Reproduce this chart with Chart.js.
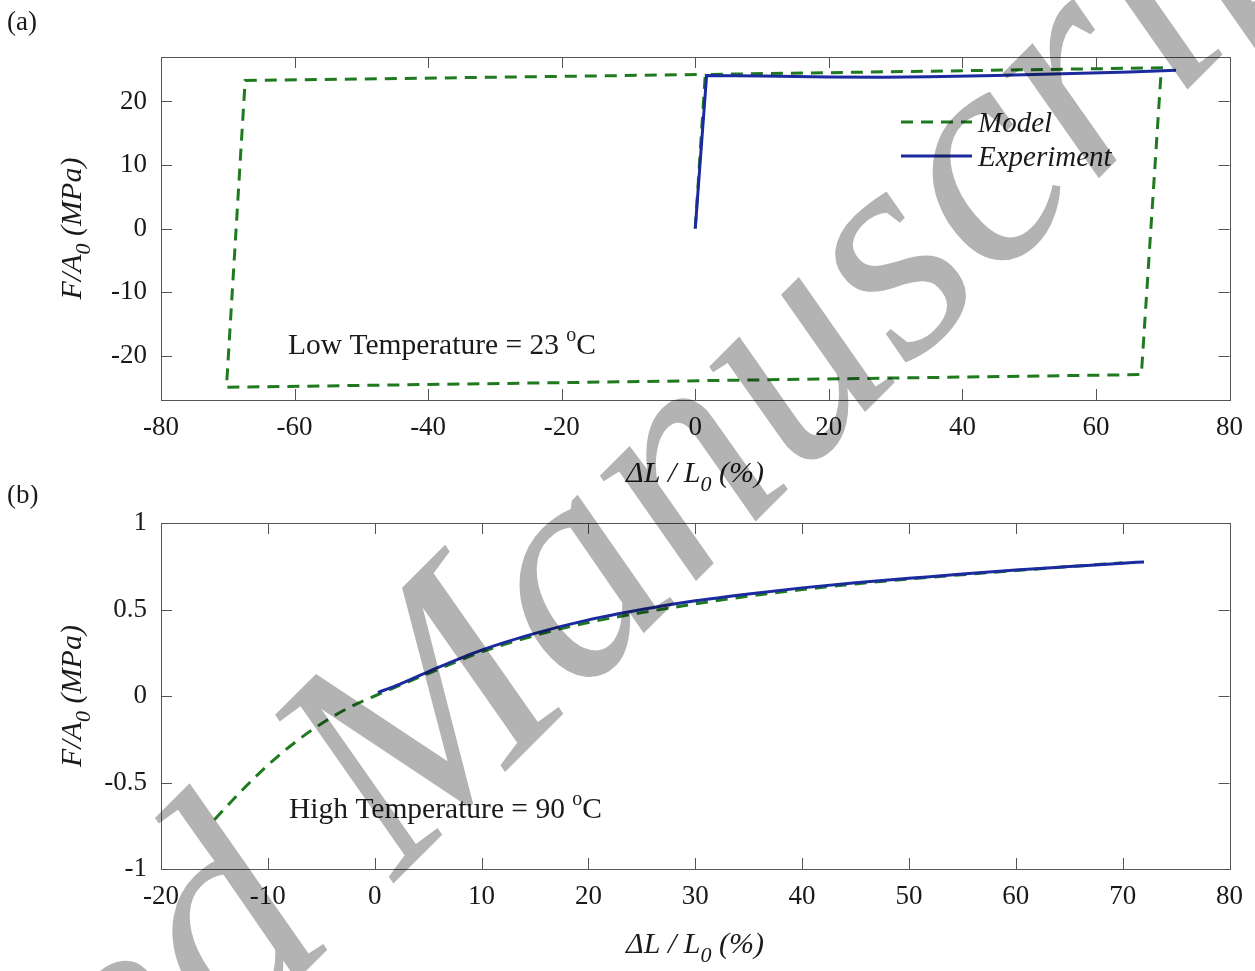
<!DOCTYPE html>
<html>
<head>
<meta charset="utf-8">
<script src="https://cdn.jsdelivr.net/npm/chart.js@4.4.1/dist/chart.umd.min.js"></script>
<style>
  html, body { margin: 0; padding: 0; background: #fff; }
  #wrap { position: relative; width: 1255px; height: 971px; overflow: hidden; background: #fff; }
  .panel { position: absolute; left: 0; width: 1255px; }
  #pa { top: 0; height: 510px; }
  #pb { top: 485px; height: 486px; }
  #wm { position: absolute; left: 0; top: 0; width: 1255px; height: 971px; pointer-events: none; mix-blend-mode: multiply; }
</style>
</head>
<body>
<div id="wrap">
  <div class="panel" id="pa"><canvas id="ca" width="1255" height="510"></canvas></div>
  <div class="panel" id="pb"><canvas id="cb" width="1255" height="486"></canvas></div>
  <svg id="wm" width="1255" height="971" xmlns="http://www.w3.org/2000/svg">
    <text x="0" y="0" transform="translate(-462,1739) rotate(-45)"
          font-family="Liberation Serif" font-style="italic" font-size="310" fill="#b3b3b3">Accepted Manuscript</text>
  </svg>
</div>
<script>
// ---- (a) low temperature, 23 °C ----
const strainModelA = [0, 1.5, 69.8, 66.8, -70.2, -67.4, 1.5];
const stressModelA = [0, 24.25, 25.3, -23.0, -25.0, 23.3, 24.25];
const strainExpA   = [0, 1.7, 10, 20, 28, 35, 45, 55, 65, 72];
const stressExpA   = [0, 24.1, 24.0, 23.85, 23.8, 23.9, 24.1, 24.35, 24.65, 24.9];
const xTicksA = [-80, -60, -40, -20, 0, 20, 40, 60, 80];
const yTicksA = [-20, -10, 0, 10, 20];

// ---- (b) high temperature, 90 °C ----
const strainModelB = [-15, -12.5, -10, -7.5, -5, -2.5, 0, 5, 10, 15, 20, 25, 30, 35, 40, 45, 50, 55, 60, 65, 70];
const stressModelB = [-0.715, -0.55, -0.40, -0.27, -0.16, -0.07, 0, 0.13, 0.255, 0.35, 0.425, 0.482, 0.532, 0.577, 0.615, 0.648, 0.676, 0.701, 0.725, 0.748, 0.77];
const strainExpB   = [0.3, 2, 5, 10, 15, 20, 25, 30, 35, 40, 45, 50, 55, 60, 65, 70, 72];
const stressExpB   = [0.02, 0.06, 0.14, 0.265, 0.362, 0.44, 0.50, 0.55, 0.59, 0.625, 0.655, 0.68, 0.705, 0.728, 0.748, 0.768, 0.775];
const xTicksB = [-20, -10, 0, 10, 20, 30, 40, 50, 60, 70, 80];
const yTicksB = [-1, -0.5, 0, 0.5, 1];

const SERIF = '"Liberation Serif", "Times New Roman", serif';
const GREEN = '#1f7a1f';
const BLUE = '#1b2a9e';
const INK = '#1a1a1a';
const AXIS = '#555555';
const TICK_LEN = 11;

const pts = (xs, ys) => xs.map((v, i) => ({ x: v, y: ys[i] }));

// Draw text made of pieces (normal / subscript / superscript)
function drawPieces(ctx, pieces, x, y, align) {
  let total = 0;
  pieces.forEach(p => { ctx.font = p.font; p.w = ctx.measureText(p.t).width; total += p.w; });
  let cx = align === 'center' ? x - total / 2 : x;
  ctx.textAlign = 'left';
  ctx.textBaseline = 'alphabetic';
  pieces.forEach(p => {
    ctx.font = p.font;
    ctx.fillText(p.t, cx, y + (p.dy || 0));
    cx += p.w;
  });
}

function strainTitle() {
  return [
    { t: '\u0394L / L', font: 'italic 30px ' + SERIF },
    { t: '0', font: 'italic 22px ' + SERIF, dy: 9 },
    { t: ' (%)', font: 'italic 30px ' + SERIF }
  ];
}
function stressTitle() {
  return [
    { t: 'F/A', font: 'italic 30px ' + SERIF },
    { t: '0', font: 'italic 22px ' + SERIF, dy: 9 },
    { t: ' (MPa)', font: 'italic 30px ' + SERIF }
  ];
}
function tempText(prefix) {
  return [
    { t: prefix + ' ', font: '29.5px ' + SERIF },
    { t: 'o', font: '20px ' + SERIF, dy: -13 },
    { t: 'C', font: '29.5px ' + SERIF }
  ];
}

// Box, inward ticks on all four sides, titles and annotations
const framePlugin = {
  id: 'frame',
  afterDatasetsDraw(chart, args, o) {
    const { ctx, chartArea: a, scales: { x, y } } = chart;
    ctx.save();
    ctx.strokeStyle = AXIS;
    ctx.lineWidth = 1;
    ctx.strokeRect(Math.round(a.left) + 0.5, Math.round(a.top) + 0.5,
                   Math.round(a.right - a.left), Math.round(a.bottom - a.top));
    ctx.beginPath();
    x.ticks.forEach(t => {
      const px = Math.round(x.getPixelForValue(t.value)) + 0.5;
      ctx.moveTo(px, a.bottom); ctx.lineTo(px, a.bottom - TICK_LEN);
      ctx.moveTo(px, a.top); ctx.lineTo(px, a.top + TICK_LEN);
    });
    y.ticks.forEach(t => {
      const py = Math.round(y.getPixelForValue(t.value)) + 0.5;
      ctx.moveTo(a.left, py); ctx.lineTo(a.left + TICK_LEN, py);
      ctx.moveTo(a.right, py); ctx.lineTo(a.right - TICK_LEN, py);
    });
    ctx.stroke();

    ctx.fillStyle = INK;
    ctx.font = '27px ' + SERIF;
    ctx.textAlign = 'left';
    ctx.textBaseline = 'alphabetic';
    ctx.fillText(o.letter, 7, o.letterY);

    drawPieces(ctx, strainTitle(), o.xTitleX, o.xTitleY, 'center');

    ctx.save();
    ctx.translate(o.yTitleX, (a.top + a.bottom) / 2);
    ctx.rotate(-Math.PI / 2);
    drawPieces(ctx, stressTitle(), 0, 0, 'center');
    ctx.restore();

    drawPieces(ctx, tempText(o.note), o.noteX, o.noteY, 'left');

    if (o.legend) {
      const L = o.legend;
      ctx.lineWidth = 3;
      ctx.strokeStyle = GREEN;
      ctx.setLineDash([12, 8]);
      ctx.beginPath(); ctx.moveTo(L.x0, L.y1); ctx.lineTo(L.x1, L.y1); ctx.stroke();
      ctx.setLineDash([]);
      ctx.strokeStyle = BLUE;
      ctx.beginPath(); ctx.moveTo(L.x0, L.y2); ctx.lineTo(L.x1, L.y2); ctx.stroke();
      ctx.fillStyle = INK;
      ctx.font = 'italic 29px ' + SERIF;
      ctx.fillText(chart.data.datasets[0].label, L.tx, L.y1 + 10);
      ctx.fillText(chart.data.datasets[1].label, L.tx, L.y2 + 10);
    }
    ctx.restore();
  }
};

function makeChart(canvasId, cfg) {
  return new Chart(document.getElementById(canvasId), {
    type: 'scatter',
    data: {
      datasets: [
        {
          label: 'Model',
          data: pts(cfg.mx, cfg.my),
          showLine: true,
          borderColor: GREEN,
          borderWidth: 3,
          borderDash: [12, 8],
          pointRadius: 0,
          cubicInterpolationMode: cfg.smooth ? 'monotone' : 'default',
          order: 2
        },
        {
          label: 'Experiment',
          data: pts(cfg.ex, cfg.ey),
          showLine: true,
          borderColor: BLUE,
          borderWidth: 3,
          pointRadius: 0,
          cubicInterpolationMode: cfg.smooth ? 'monotone' : 'default',
          order: 1
        }
      ]
    },
    options: {
      responsive: false,
      animation: false,
      events: [],
      layout: { padding: { left: 0, right: 25, top: cfg.padTop, bottom: 0 } },
      plugins: {
        legend: { display: false },
        tooltip: { enabled: false },
        frame: cfg.frame
      },
      scales: {
        x: {
          type: 'linear',
          min: cfg.xTicks[0],
          max: cfg.xTicks[cfg.xTicks.length - 1],
          grid: { display: false, drawTicks: false },
          border: { display: false },
          afterBuildTicks: s => { s.ticks = cfg.xTicks.map(v => ({ value: v })); },
          afterFit: s => { s.height = cfg.xAxisH; },
          ticks: { color: INK, font: { family: SERIF, size: 27 }, padding: 12, maxRotation: 0, autoSkip: false,
                   callback: v => String(v) }
        },
        y: {
          type: 'linear',
          min: cfg.yMin,
          max: cfg.yMax,
          grid: { display: false, drawTicks: false },
          border: { display: false },
          afterBuildTicks: s => { s.ticks = cfg.yTicks.map(v => ({ value: v })); },
          afterFit: s => { s.width = 161; },
          ticks: { color: INK, font: { family: SERIF, size: 27 }, padding: 14, autoSkip: false,
                   callback: v => String(v) }
        }
      }
    },
    plugins: [framePlugin]
  });
}

makeChart('ca', {
  mx: strainModelA, my: stressModelA, ex: strainExpA, ey: stressExpA,
  xTicks: xTicksA, yTicks: yTicksA, yMin: -27, yMax: 27,
  padTop: 57, xAxisH: 110, smooth: false,
  frame: {
    letter: '(a)', letterY: 30,
    xTitleX: 695, xTitleY: 482,
    yTitleX: 81,
    note: 'Low Temperature = 23', noteX: 288, noteY: 354,
    legend: { x0: 901, x1: 972, y1: 122, y2: 156, tx: 978 }
  }
});

makeChart('cb', {
  mx: strainModelB, my: stressModelB, ex: strainExpB, ey: stressExpB,
  xTicks: xTicksB, yTicks: yTicksB, yMin: -1, yMax: 1,
  padTop: 38, xAxisH: 102, smooth: true,
  frame: {
    letter: '(b)', letterY: 18,
    xTitleX: 695, xTitleY: 468,
    yTitleX: 81,
    note: 'High Temperature = 90', noteX: 289, noteY: 333,
    legend: null
  }
});
</script>
</body>
</html>
